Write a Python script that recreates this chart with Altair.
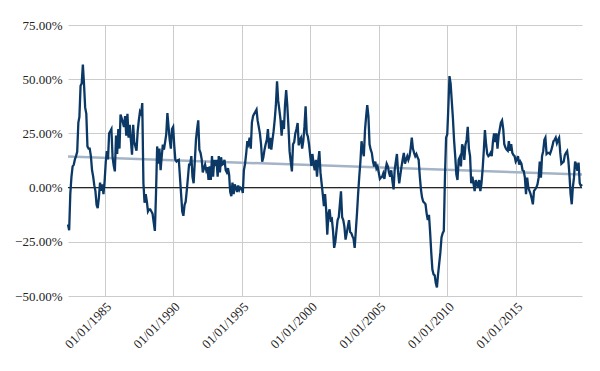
import altair as alt
import pandas as pd

start_month = "1982-05-01"

# monthly values in percent
values = [
    -17, -19.7, -3, 5, 9.8, 10.5, 13, 14.5, 16.5, 30,
    32.6, 47, 48, 56.7, 48, 37, 34, 19, 18, 18,
    14.5, 8, 5.2, 1, -1.6, -8, -9.5, -4.6, 2.3, -1.5,
    1.5, -3, 3, 12, 16.8, 13, 25, 26, 27, 14,
    10, 7.5, 24, 15.5, 27, 18, 33.7, 32, 30, 28,
    33, 24, 34, 23, 29, 22, 15.2, 29, 21, 19,
    17, 26, 31, 35, 34, 39, 2, -7, -3, -6.5,
    -11, -10, -10, -11, -12, -16, -20, -3, 19, 11,
    18, 8, 14, 19.8, 17.5, 21, 24.5, 34.4, 28, 22,
    18, 27, 28, 19, 12.8, 12, 12.5, 12.8, 5, -3,
    -11, -13, -8, -6.5, -1, 5, 10.6, 10.6, 14.5, 5,
    2, 12, 22, 26.8, 31, 17.5, 16, 13, 7, 9,
    10.6, 8, 9.5, 3.5, 9.8, 3.5, 14.5, 5, 12.8, 10,
    12.8, 5, 14.5, 7, 14, 10.6, 11, 12.8, 8, 7,
    9, 6, -2, -4, 2.3, -3, 1.5, 0, -2, 1,
    -1, 0, -0.3, -2.5, 8, 11, 15.5, 21.4, 20, 23,
    18, 30, 33, 34, 35, 36, 31, 28, 25, 20,
    12, 14, 17.5, 20, 22, 27, 18, 23, 17.5, 22,
    26, 31.5, 38, 49, 40, 36, 31.5, 24, 31, 27,
    38, 45, 38, 28, 16.8, 12, 7.5, 20, 21, 25,
    27, 29.8, 19.5, 22, 23, 18, 21.4, 28, 37.5, 25,
    23.5, 20, 15, 10, 15.5, 11, 8, 12.8, 5, 12,
    16.8, 7, 2, -3, -8.5, -3, -10, -21.7, -12, -10,
    -15, -14.5, -20, -27.8, -25, -20, -15, -13.6, -8, -1.7,
    -13.6, -15, -18, -24, -21, -18, -15, -20.5, -21, -22.5,
    -23.5, -27.8, -20, -12, -3, 5, 12, 21.4, 17, 14.5,
    26.5, 33, 38, 33, 20, 17.5, 16, 12, 9.8, 12,
    8.8, 9.8, 7, 4, 4.6, 5, 6.5, 4, 8, 11,
    9.8, 7, 5, 8, 3, -0.8, 8, 12, 15.5, 7,
    2, 6, 9.8, 13, 16, 11, 13, 14.5, 12.8, 14.5,
    18, 23, 18, 16, 14.5, 15.5, 14, 12.8, 5, -1,
    -4.6, -6.5, -7, -7.7, -12, -15, -12.5, -20.5, -30, -37.8,
    -40, -40.5, -44, -46, -40, -35, -30, -23, -21, -20,
    5, 23, 24.5, 38, 51.4, 48, 40, 32, 22, 14.5,
    6, 3.5, 12.8, 14, 9.8, 20, 18.5, 12.8, 19.8, 22,
    28, 18, 14.5, 2, 5, 2, -1.6, 3.5, 2, 0,
    3.5, -1.6, 2, 8.5, 17, 26.5, 20, 15.5, 14.5, 15,
    16, 14.5, 21, 25, 21, 25, 18, 24, 27, 30,
    31, 27, 20, 18.5, 17.5, 17, 21.4, 17, 20, 16,
    15, 14.5, 12, 13, 14.5, 10.6, 12, 11, 8, 7.7,
    4.6, -3, 4.6, 0, -1.5, -3, -5, -7.7, -1.5, -0.8,
    0, 1.5, 4.6, 12, 4.6, 14.5, 16.8, 22, 23, 15.5,
    16, 16, 15.5, 17, 19, 21.4, 22, 23, 20.5, 22,
    23, 16, 11, 11.5, 12, 15, 16, 16.8, 12.8, 6,
    -3, -7.7, 0, 4.6, 12, 10.6, 7.7, 11.5, 2, 0.8, 1.5,
]

# trend line end values (percent)
trend_values = [14.3, 6.0]

y_ticks = [-0.5, -0.25, 0, 0.25, 0.5, 0.75]

dates = pd.date_range(start_month, periods=len(values), freq="MS")
df = pd.DataFrame({"date": dates, "value": [v / 100 for v in values]})
trend_df = pd.DataFrame(
    {"date": [dates[0], dates[-1]], "value": [v / 100 for v in trend_values]}
)

FONT = "Liberation Serif"

x_enc = alt.X(
    "date:T",
    title=None,
    scale=alt.Scale(nice=False),
    axis=alt.Axis(
        format="%m/%d/%Y",
        labelAngle=-45,
        tickCount={"interval": "year", "step": 5},
        domain=False,
        ticks=False,
        grid=True,
        gridColor="#cccccc",
        labelFont=FONT,
        labelFontSize=13,
        labelColor="#222222",
        labelPadding=4,
    ),
)
y_enc = alt.Y(
    "value:Q",
    title=None,
    scale=alt.Scale(domain=[-0.5, 0.75], nice=False),
    axis=alt.Axis(
        format=".2%",
        values=y_ticks,
        domain=False,
        ticks=False,
        grid=True,
        gridColor="#cccccc",
        labelFont=FONT,
        labelFontSize=13,
        labelColor="#222222",
        labelPadding=6,
    ),
)

trend = alt.Chart(trend_df).mark_line(
    color="#a3b4c6", strokeWidth=2.5
).encode(x=x_enc, y=y_enc)

zero = alt.Chart(pd.DataFrame({"y": [0]})).mark_rule(
    color="#111111", strokeWidth=1
).encode(y="y:Q")

line = alt.Chart(df).mark_line(color="#0b3865", strokeWidth=2.3).encode(
    x=x_enc, y=y_enc
)

chart = (
    alt.layer(trend, zero, line)
    .properties(
        width=514,
        height=271,
        autosize=alt.AutoSizeParams(type="none"),
        padding={"left": 60, "top": 17, "right": 10, "bottom": 60},
    )
    .configure_view(stroke=None)
)

chart.save("out.html", embed_options={"renderer": "svg", "actions": False})
